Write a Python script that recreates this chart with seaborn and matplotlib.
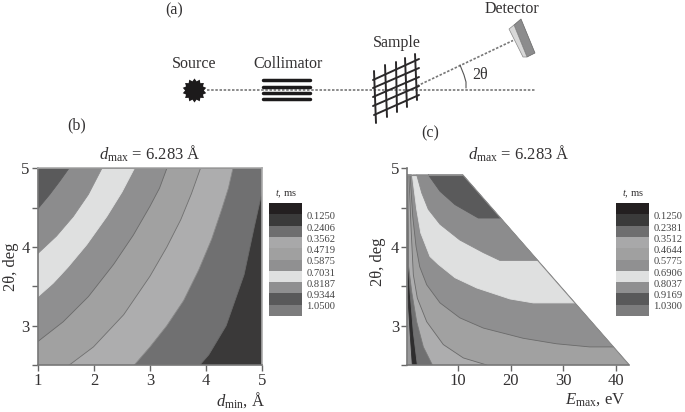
import numpy as np
import matplotlib
matplotlib.use('Agg')
import matplotlib.pyplot as plt
from matplotlib.colors import ListedColormap
from matplotlib.path import Path
from matplotlib.patches import Polygon
import seaborn as sns

FIG_W, FIG_H = 685, 412

## panel (b): contour boundaries, dmin vs 2theta
b_curves = [
    ([3.89, 4.05, 4.36, 4.68, 4.86, 5.00], [2.50, 2.63, 3.00, 3.65, 4.25, 4.70]),
    ([2.72, 3.00, 3.30, 3.60, 3.87, 4.10, 4.28, 4.40, 4.48], [2.50, 2.73, 3.00, 3.32, 3.71, 4.10, 4.48, 4.75, 5.00]),
    ([1.56, 1.99, 2.53, 3.00, 3.30, 3.55, 3.74, 3.90], [2.50, 2.73, 3.14, 3.63, 4.00, 4.35, 4.68, 5.00]),
    ([1.00, 1.45, 1.90, 2.35, 2.70, 3.00, 3.17, 3.30], [2.80, 3.05, 3.37, 3.78, 4.15, 4.52, 4.75, 5.00]),
    ([1.00, 1.27, 1.53, 1.87, 2.23, 2.50, 2.72], [3.37, 3.54, 3.74, 4.03, 4.39, 4.70, 5.00]),
    ([1.00, 1.33, 1.63, 1.90, 2.14], [3.92, 4.14, 4.39, 4.67, 5.00]),
    ([1.00, 1.21, 1.39, 1.55], [4.49, 4.67, 4.84, 5.00]),
]
b_base = '#3a3939'
b_colors = ['#707071', '#adadae', '#a1a1a1', '#8f8f90', '#dfe0e0', '#8c8c8d', '#5a5a5b']
b_edges = ['#6a6a6a', '#8a8a8a', '#707070', '#6a6a6a', '#dfe0e0', '#8c8c8d', '#5a5a5b']

## panel (c): contour boundaries, Emax vs 2theta
c_hull_x = [0.45, 10.95, 42.5, 0.45]
c_hull_y = [4.92, 4.92, 2.5, 2.5]
c_curves = [
    ([0.47, 0.59, 0.97, 1.40], [4.92, 3.35, 2.92, 2.50]),
    ([0.50, 0.65, 0.97, 1.59, 2.35], [4.92, 3.78, 3.43, 2.92, 2.50]),
    ([0.55, 0.65, 1.29, 2.23, 3.49, 5.20], [4.92, 3.78, 3.43, 3.05, 2.73, 2.50]),
    ([0.75, 1.15, 1.59, 2.35, 4.13, 7.27, 11.06, 15.50], [4.92, 4.26, 3.65, 3.35, 3.05, 2.76, 2.59, 2.50]),
    ([0.97, 1.48, 2.10, 2.80, 4.13, 6.65, 10.4, 14.85, 22.4, 28.7, 35.0, 39.5],
     [4.92, 4.39, 4.01, 3.75, 3.52, 3.29, 3.10, 2.97, 2.84, 2.77, 2.73, 2.73]),
    ([1.40, 2.23, 3.00, 4.75, 6.33, 9.49, 13.6, 19.9, 24.3, 32.2],
     [4.92, 4.48, 4.18, 3.88, 3.78, 3.61, 3.48, 3.34, 3.29, 3.29]),
    ([2.23, 3.18, 4.43, 6.65, 10.4, 14.85, 18.0, 25.2],
     [4.92, 4.69, 4.48, 4.29, 4.09, 3.93, 3.83, 3.83]),
    ([4.43, 6.65, 9.49, 13.9, 18.1], [4.92, 4.71, 4.54, 4.37, 4.37]),
]
c_base = '#989899'
c_colors = ['#2e2d2e', '#707071', '#adadae', '#a1a1a1', '#8f8f90', '#dfe0e0', '#8c8c8d', '#5a5a5b']
c_edges = ['#2e2d2e', '#707071', '#7a7a7a', '#6a6a6a', '#6a6a6a', '#dfe0e0', '#8c8c8d', '#5a5a5b']

## colour key
key_colors = ['#231f20', '#3a3a3a', '#6e6e6f', '#a8a8a9', '#a0a0a0', '#909091',
              '#dfe0e0', '#8f8f90', '#59595a', '#7c7c7d']
b_key_labels = ['0.1250', '0.2406', '0.3562', '0.4719', '0.5875', '0.7031', '0.8187', '0.9344', '1.0500']
c_key_labels = ['0.1250', '0.2381', '0.3512', '0.4644', '0.5775', '0.6906', '0.8037', '0.9169', '1.0300']

## schematic (a), in picture pixels
beam_x = [207, 535]
beam_y = [89.5, 89.5]
scatter_x = [417, 513]
scatter_y = [86, 40.5]
arc_x = [460, 464, 466, 466]
arc_y = [65, 75, 82, 88]
collimator_y = [80, 86.5, 92.5, 99]
collimator_x = [262.7, 310]
source_x = [194]
source_y = [90]
grid_a_x = [(376, 374), (387, 385), (397, 396), (407, 405), (417, 415)]
grid_a_y = [(123, 71), (117, 65), (112, 62), (107, 58), (100, 54)]
grid_b_x = [(373, 419), (373, 419), (373, 419), (373, 419), (374, 419)]
grid_b_y = [(80, 59), (88, 68), (97, 77), (106, 86), (115, 95)]
det_dark = [(514, 25), (521, 19), (535, 53), (527, 57)]
det_light = [(509, 29), (514, 25), (527, 57), (523, 57)]

sns.set_theme(style = 'white')
plt.rcParams['font.family'] = ['Liberation Serif', 'DejaVu Serif']
plt.rcParams['mathtext.fontset'] = 'custom'
plt.rcParams['mathtext.rm'] = 'Liberation Serif'
plt.rcParams['mathtext.it'] = 'Liberation Serif:italic'
plt.rcParams['text.color'] = '#333132'

fig = plt.figure(figsize = (FIG_W / 100, FIG_H / 100), dpi = 100)

def make_axes(left, top, right, bottom):
    return fig.add_axes([left / FIG_W, 1 - bottom / FIG_H, (right - left) / FIG_W, (bottom - top) / FIG_H])

def style_axes(ax):
    ax.set_yticks([3, 4, 5])
    ax.set_yticks([2.5, 3.5, 4.5], minor = True)
    ax.tick_params(which = 'both', left = True, bottom = True, direction = 'out', length = 4,
                   width = 1, color = '#666666', labelsize = 12, pad = 2, labelcolor = '#333132')
    for side in ax.spines:
        ax.spines[side].set_color('#777777')
        ax.spines[side].set_linewidth(1.2)

def draw_key(left, labels, tick_side_pad):
    cax = make_axes(left, 203, left + 33, 316)
    cells = np.arange(len(key_colors)).reshape(-1, 1)
    sns.heatmap(cells, cmap = ListedColormap(key_colors), cbar = False, ax = cax,
                xticklabels = False, yticklabels = False)
    positions = np.linspace(1.13, 9.1, len(labels))
    cax.yaxis.tick_right()
    cax.set_yticks(positions)
    cax.set_yticklabels(labels, rotation = 0, fontsize = 7.6, color = '#444444')
    cax.tick_params(axis = 'y', length = 0, pad = tick_side_pad)
    fig.text((left + 16.5) / FIG_W, 1 - 194 / FIG_H, '$t$, ms', fontsize = 7.6, ha = 'center', va = 'center')

## panel b
ax_b = make_axes(38, 168.5, 262, 365)
ax_b.set_facecolor(b_base)
for (xs, ys), color, edge in zip(b_curves, b_colors, b_edges):
    # paint everything up and left of this boundary
    poly_x = xs + [xs[-1], 1, 1]
    poly_y = ys + [5, 5, ys[0]]
    ax_b.fill(poly_x, poly_y, color = color, lw = 0)
    sns.lineplot(x = xs, y = ys, sort = False, estimator = None, color = edge, lw = 0.6, ax = ax_b)
ax_b.set_xlim(1, 5)
ax_b.set_ylim(2.5, 5)
ax_b.set_xticks([1, 2, 3, 4, 5])
style_axes(ax_b)
ax_b.spines['top'].set_color('#aaaaaa')
ax_b.spines['right'].set_color('#aaaaaa')

## panel c
ax_c = make_axes(407.3, 168.5, 629.3, 365)
hull = Polygon(np.column_stack([c_hull_x, c_hull_y]), closed = True, facecolor = c_base, edgecolor = 'none')
ax_c.add_patch(hull)
for (xs, ys), color, edge in zip(c_curves, c_colors, c_edges):
    # paint everything up and right of this boundary, inside the hull
    poly_x = list(xs)
    poly_y = list(ys)
    if ys[-1] == c_hull_y[2]:
        poly_x.append(c_hull_x[2])
        poly_y.append(c_hull_y[2])
    poly_x.append(c_hull_x[1])
    poly_y.append(c_hull_y[1])
    ax_c.fill(poly_x, poly_y, color = color, lw = 0)
    sns.lineplot(x = xs, y = ys, sort = False, estimator = None, color = edge, lw = 0.6, ax = ax_c)
sns.lineplot(x = c_hull_x[:2], y = c_hull_y[:2], color = '#8a8a8a', lw = 0.8, ax = ax_c)
sns.lineplot(x = c_hull_x[1:3], y = c_hull_y[1:3], color = '#8a8a8a', lw = 0.8, ax = ax_c)
ax_c.set_xlim(c_hull_x[0], c_hull_x[2])
ax_c.set_ylim(2.5, 5)
ax_c.set_xticks([10, 20, 30, 40])
style_axes(ax_c)
sns.despine(ax = ax_c)

draw_key(269, b_key_labels, 3)
draw_key(616, c_key_labels, 3)

title = r'$d_{\mathrm{max}}$ = 6.283 Å'
fig.text(150 / FIG_W, 1 - 154 / FIG_H, title, fontsize = 12, ha = 'center', va = 'center')
fig.text(519 / FIG_W, 1 - 154 / FIG_H, title, fontsize = 12, ha = 'center', va = 'center')
fig.text(241 / FIG_W, 1 - 400 / FIG_H, r'$d_{\mathrm{min}}$, Å', fontsize = 12, ha = 'center', va = 'center')
fig.text(595.6 / FIG_W, 1 - 400 / FIG_H, r'$E_{\mathrm{max}}$, eV', fontsize = 12, ha = 'center', va = 'center')
fig.text(11 / FIG_W, 1 - 267 / FIG_H, '2θ, deg', fontsize = 12, rotation = 90, ha = 'center', va = 'center')
fig.text(378 / FIG_W, 1 - 262 / FIG_H, '2θ, deg', fontsize = 12, rotation = 90, ha = 'center', va = 'center')

## schematic a, overlay in pixels
ax_a = fig.add_axes([0, 0, 1, 1], facecolor = 'none')
ax_a.set_xlim(0, FIG_W)
ax_a.set_ylim(FIG_H, 0)
ax_a.axis('off')
sns.lineplot(x = beam_x, y = beam_y, color = '#777777', lw = 1.2, ls = (0, (1.5, 1)), ax = ax_a)
sns.lineplot(x = scatter_x, y = scatter_y, sort = False, estimator = None, color = '#777777', lw = 1.2,
             ls = (0, (1.5, 1)), ax = ax_a)
sns.lineplot(x = arc_x, y = arc_y, sort = False, estimator = None, color = '#555555', lw = 0.8, ax = ax_a)
for y in collimator_y:
    sns.lineplot(x = collimator_x, y = [y, y], color = '#1c1a1b', lw = 2.5, ax = ax_a)
for xs, ys in zip(grid_a_x + grid_b_x, grid_a_y + grid_b_y):
    sns.lineplot(x = list(xs), y = list(ys), sort = False, estimator = None, color = '#2a2829', lw = 1.4, ax = ax_a)
ax_a.add_patch(Polygon(det_dark, closed = True, facecolor = '#8c8c8d', edgecolor = '#666666', lw = 0.5))
ax_a.add_patch(Polygon(det_light, closed = True, facecolor = '#d8d8d8', edgecolor = '#888888', lw = 0.5))
star = Path.unit_regular_star(14, innerCircle = 0.78)
sns.scatterplot(x = source_x, y = source_y, marker = star, s = 300, color = '#1c1a1b', linewidth = 0, ax = ax_a)
ax_a.set_xlim(0, FIG_W)
ax_a.set_ylim(FIG_H, 0)
ax_a.text(194, 64, 'Source', fontsize = 11.5, ha = 'center', va = 'center')
ax_a.text(288, 64, 'Collimator', fontsize = 11.5, ha = 'center', va = 'center')
ax_a.text(397, 43, 'Sample', fontsize = 11.5, ha = 'center', va = 'center')
ax_a.text(512, 9, 'Detector', fontsize = 11.5, ha = 'center', va = 'center')
ax_a.text(480, 75, '2θ', fontsize = 11.5, ha = 'center', va = 'center')
ax_a.text(174, 10, '(a)', fontsize = 11.5, ha = 'center', va = 'center')
ax_a.text(77, 125, '(b)', fontsize = 11.5, ha = 'center', va = 'center')
ax_a.text(430, 133, '(c)', fontsize = 11.5, ha = 'center', va = 'center')

plt.savefig('out.png', dpi = 100)
